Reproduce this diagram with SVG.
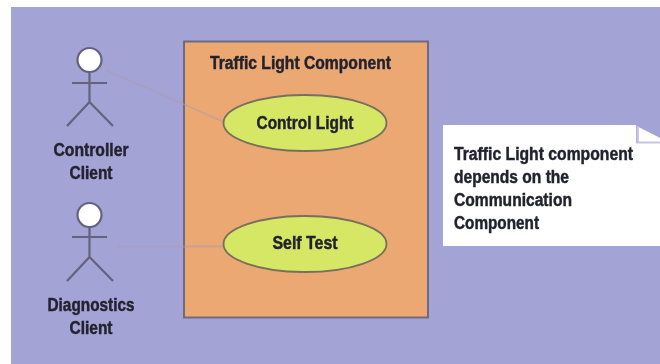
<svg xmlns="http://www.w3.org/2000/svg" width="660" height="364" viewBox="0 0 660 364">
<style>
text{font-family:"Liberation Sans Narrow","Liberation Sans",Arial,sans-serif;font-weight:bold;font-size:18px;fill:#23232f;stroke:#23232f;stroke-width:.45;text-anchor:middle}
.l{text-anchor:start;font-size:17.500px}
.fig{fill:none;stroke:#63637e;stroke-width:2.200}
.head{fill:#fff;stroke:#63637e;stroke-width:2.200}
.conn{fill:none;stroke:#b09ab0;stroke-width:1.800;opacity:.5}
.uc{fill:#d6e766;stroke:#776f5c;stroke-width:1.800}
</style>
<defs><filter id="b" x="-5%" y="-5%" width="110%" height="110%"><feGaussianBlur stdDeviation="0.7"/></filter></defs>
<g filter="url(#b)">
<rect id="background" x="11" y="7" width="660" height="370" fill="#a3a3d6"/>
<g id="component">
<rect x="184" y="41.500" width="244" height="276" fill="#eba873" stroke="#6f6a80" stroke-width="2"/>
<text x="300.500" y="69" textLength="181" lengthAdjust="spacingAndGlyphs">Traffic Light Component</text>
</g>
<g id="connectors">
<path class="conn" d="M106 70 L224 122"/>
<path class="conn" d="M118 246.500 L223 246.500"/>
</g>
<g id="control-light">
<ellipse class="uc" cx="305" cy="123" rx="81.500" ry="28"/>
<text x="305" y="129" textLength="97" lengthAdjust="spacingAndGlyphs">Control Light</text>
</g>
<g id="self-test">
<ellipse class="uc" cx="305" cy="244" rx="81.500" ry="28"/>
<text x="305" y="249" textLength="65" lengthAdjust="spacingAndGlyphs">Self Test</text>
</g>
<g id="controller-client">
<circle class="head" cx="89.500" cy="60" r="12"/>
<path class="fig" d="M72 83 H107 M89.500 72 V102 L67 126 M89.500 102 L113 126"/>
<text x="91" y="156" textLength="75" lengthAdjust="spacingAndGlyphs">Controller</text>
<text x="91" y="179" textLength="43" lengthAdjust="spacingAndGlyphs">Client</text>
</g>
<g id="diagnostics-client">
<circle class="head" cx="89.500" cy="215" r="12"/>
<path class="fig" d="M72 237 H107 M89.500 227 V257 L67 281 M89.500 257 L113 281"/>
<text x="91" y="311" textLength="87" lengthAdjust="spacingAndGlyphs">Diagnostics</text>
<text x="91" y="334" textLength="43" lengthAdjust="spacingAndGlyphs">Client</text>
</g>
<g id="note">
<path d="M443 125 H636 V143 H670 V246 H443 Z" fill="#fff"/>
<path d="M638.500 127 L670 143 H638.500 Z" fill="#fff"/>
<path d="M637.500 126 V142.500 H670" fill="none" stroke="#c4c4e6" stroke-width="2"/>
<text class="l" x="454" y="160" textLength="179" lengthAdjust="spacingAndGlyphs">Traffic Light component</text>
<text class="l" x="454" y="183" textLength="115" lengthAdjust="spacingAndGlyphs">depends on the</text>
<text class="l" x="454" y="206" textLength="118" lengthAdjust="spacingAndGlyphs">Communication</text>
<text class="l" x="454" y="229" textLength="85" lengthAdjust="spacingAndGlyphs">Component</text>
</g>
</g>
</svg>
